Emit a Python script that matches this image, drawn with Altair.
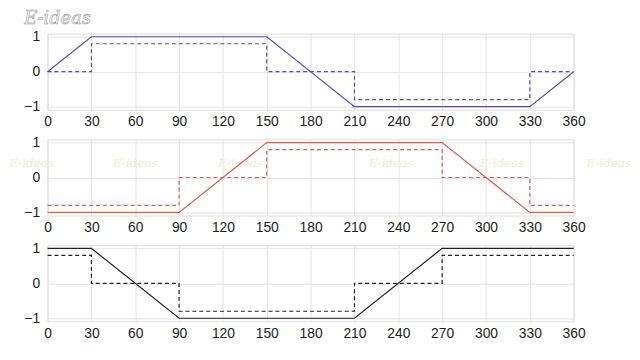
import altair as alt
import pandas as pd

# ---- data ----
x_ticks = [0, 30, 60, 90, 120, 150, 180, 210, 240, 270, 300, 330, 360]
y_tick_count = 3  # ticks at -1, 0, 1

p1_solid_x = [0, 30, 150, 210, 330, 360]
p1_solid_y = [0, 1, 1, -1, -1, 0]
p1_dash_x = [0, 30, 30, 150, 150, 210, 210, 330, 330, 360]
p1_dash_y = [0, 0, 0.8, 0.8, 0, 0, -0.8, -0.8, 0, 0]

p2_solid_x = [0, 90, 150, 270, 330, 360]
p2_solid_y = [-1, -1, 1, 1, -1, -1]
p2_dash_x = [0, 90, 90, 150, 150, 270, 270, 330, 330, 360]
p2_dash_y = [-0.8, -0.8, 0, 0, 0.8, 0.8, 0, 0, -0.8, -0.8]

p3_solid_x = [0, 30, 90, 210, 270, 360]
p3_solid_y = [1, 1, -1, -1, 1, 1]
p3_dash_x = [0, 30, 30, 90, 90, 210, 210, 270, 270, 360]
p3_dash_y = [0.8, 0.8, 0, 0, -0.8, -0.8, 0, 0, 0.8, 0.8]

logo_text = ["E-ideas"]
logo_x = [-16]
logo_y = [1.5]

wm_x = [-11, 60, 132, 235, 311, 384]
wm_y = [0.4, 0.4, 0.4, 0.4, 0.4, 0.4]

W, H = 532, 77
FONT = "Liberation Sans"


def line_df(xs, ys):
    return pd.DataFrame({"x": xs, "y": ys, "i": list(range(len(xs)))})


xscale = alt.Scale(domain=[0, 360], nice=False, zero=False)
yscale = alt.Scale(domain=[-1.09, 1.09], nice=False, zero=False)

xaxis = alt.Axis(values=x_ticks, title=None, labelFont=FONT, labelFontSize=14,
                 labelColor="#222", tickSize=0, labelPadding=5, domain=False,
                 grid=True, gridColor="#e4e4e4", labelFlush=False, labelOverlap=False)
yaxis = alt.Axis(tickCount=y_tick_count, title=None, labelFont=FONT, labelFontSize=14,
                 labelColor="#222", tickSize=0, labelPadding=8, domain=False,
                 grid=True, gridColor="#e4e4e4", minExtent=35, maxExtent=35,
                 labelOverlap=False, labelFlush=False, format="d")


def panel(sx, sy, dx, dy, color, extras=None):
    solid = alt.Chart(line_df(sx, sy)).mark_line(color=color, strokeWidth=1.2).encode(
        x=alt.X("x:Q", scale=xscale, axis=xaxis),
        y=alt.Y("y:Q", scale=yscale, axis=yaxis),
        order="i:Q",
    )
    dashed = alt.Chart(line_df(dx, dy)).mark_line(
        color=color, strokeWidth=1.2, strokeDash=[4, 3]).encode(
        x=alt.X("x:Q", scale=xscale),
        y=alt.Y("y:Q", scale=yscale),
        order="i:Q",
    )
    layers = [solid, dashed]
    if extras:
        layers = extras + layers
    return alt.layer(*layers).properties(width=W, height=H)


logo = alt.Chart(pd.DataFrame({"x": logo_x, "y": logo_y, "t": logo_text})).mark_text(
    align="left", baseline="middle", font="DejaVu Serif", fontStyle="italic",
    fontSize=18, fill="white", stroke="#9a9a9a", strokeWidth=0.6).encode(
    x=alt.X("x:Q", scale=xscale), y=alt.Y("y:Q", scale=yscale), text="t:N")

wm = alt.Chart(pd.DataFrame({"x": wm_x, "y": wm_y, "t": ["E-ideas"] * len(wm_x)})).mark_text(
    align="center", baseline="middle", font="DejaVu Serif", fontStyle="italic",
    fontSize=12, color="#f1ead3").encode(
    x=alt.X("x:Q", scale=xscale), y=alt.Y("y:Q", scale=yscale), text="t:N")

c1 = panel(p1_solid_x, p1_solid_y, p1_dash_x, p1_dash_y, "#4f4fc4")
c1 = alt.layer(c1, logo)
c2 = panel(p2_solid_x, p2_solid_y, p2_dash_x, p2_dash_y, "#d9604c", extras=[wm])
c3 = panel(p3_solid_x, p3_solid_y, p3_dash_x, p3_dash_y, "#222222")

chart = alt.vconcat(c1, c2, c3, spacing=5).configure_view(
    stroke="#8a8a8a", strokeWidth=1.5
).configure(background="white", padding=0)

chart.save("out.html", embed_options={"renderer": "svg", "actions": False})
